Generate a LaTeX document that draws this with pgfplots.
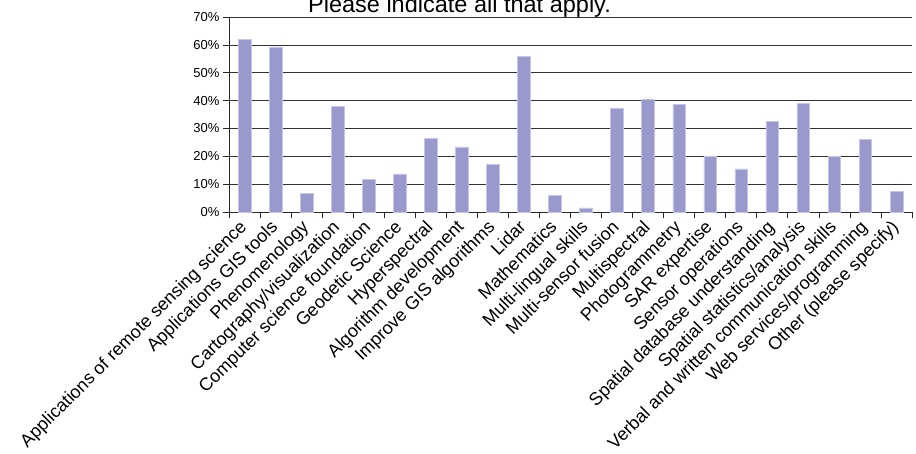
\documentclass[border=0pt]{standalone}
\usepackage{fontspec}
\setmainfont{Liberation Sans}
\usepackage{pgfplots}
\pgfplotsset{compat=1.18}
\definecolor{barfill}{HTML}{9999CC}
\definecolor{baredge}{HTML}{C4C4EC}
\begin{document}
\begin{tikzpicture}[x=1pt,y=1pt]
\path[use as bounding box] (0,0) rectangle (916,453);
\begin{axis}[
  at={(229pt,241pt)}, anchor=south west,
  width=683pt, height=195pt, scale only axis,
  xmin=-0.5, xmax=21.5, ymin=0, ymax=70,
  ytick={0,10,...,70},
  yticklabel={\pgfmathprintnumber{\tick}\%},
  /pgf/number format/assume math mode=true,
  y tick label style={font=\fontsize{13}{13}\selectfont},
  ymajorgrids, grid style={black!80, line width=0.7pt},
  axis x line*=bottom, axis y line*=left,
  axis line style={black!85, line width=0.7pt},
  tick style={black!85, line width=0.7pt},
  tick align=outside,
  major tick length=6pt, minor tick length=6pt,
  ybar, bar width=12.7pt,
  xtick={0,...,21},
  major x tick style={draw=none},
  minor xtick={-0.5,0.5,...,21.5},
  xticklabels={Applications of remote sensing science,Applications GIS tools,Phenomenology,Cartography/visualization,Computer science foundation,Geodetic Science,Hyperspectral,Algorithm development,Improve GIS algorithms,Lidar,Mathematics,Multi-lingual skills,Multi-sensor fusion,Multispectral,Photogrammetry,SAR expertise,Sensor operations,Spatial database understanding,Spatial statistics/analysis,Verbal and written communication skills,Web services/programming,Other (please specify)},
  x tick label style={rotate=45, anchor=north east, inner sep=1pt, xshift=-4pt, yshift=5pt, font=\fontsize{18}{18}\selectfont},
]
\addplot[fill=barfill, draw=baredge, line width=0.6pt] coordinates {
(0,62.1) (1,59.3) (2,6.6) (3,37.9) (4,11.8) (5,13.7) (6,26.3) (7,23.4) (8,17.2) (9,56.0) (10,6.0)
(11,1.5) (12,37.1) (13,40.5) (14,38.7) (15,20.0) (16,15.5) (17,32.4) (18,38.9) (19,20.0) (20,26.1) (21,7.3)
};
\end{axis}
\node[font=\fontsize{23.5}{24}\selectfont, anchor=base] at (459.5,440) {Please indicate all that apply.};
\end{tikzpicture}
\end{document}
